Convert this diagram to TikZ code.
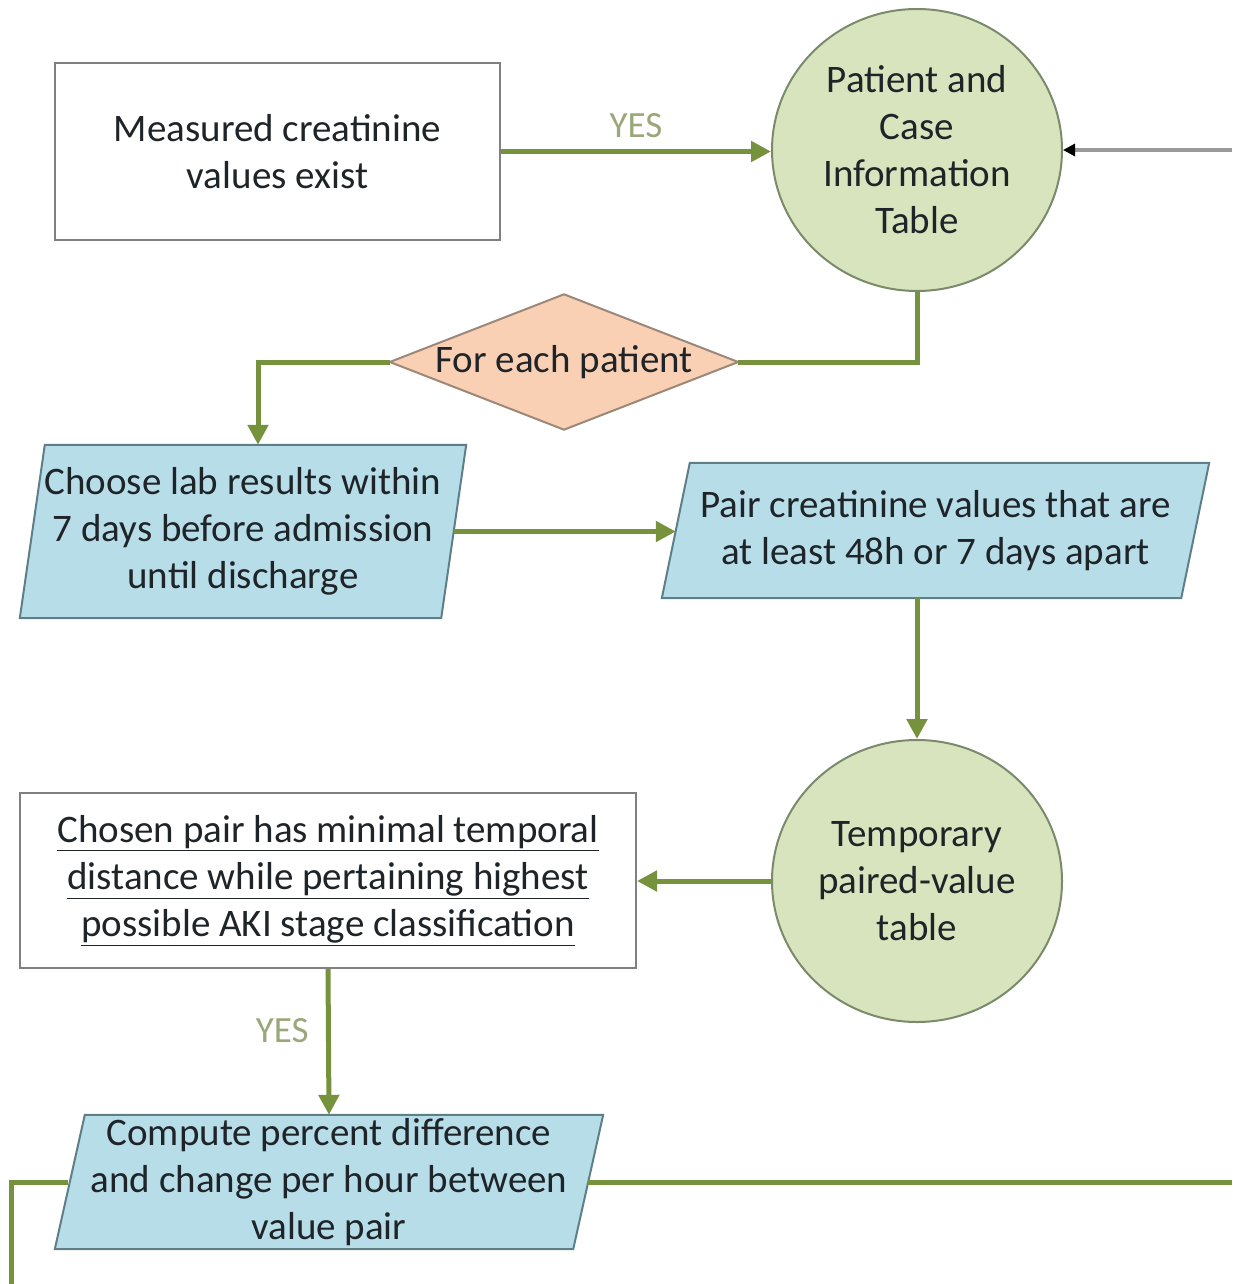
\documentclass[tikz,border=0pt]{standalone}
\usepackage{fontspec}
\setmainfont{Carlito}
\usetikzlibrary{shapes.geometric,arrows.meta,backgrounds}
\definecolor{conn}{HTML}{76923C}
\definecolor{circfill}{HTML}{D7E4BD}
\definecolor{circdraw}{HTML}{7A8A6A}
\definecolor{parafill}{HTML}{B7DDE8}
\definecolor{paradraw}{HTML}{5F7F88}
\definecolor{diafill}{HTML}{FAD0B4}
\definecolor{diadraw}{HTML}{9C8878}
\definecolor{boxdraw}{HTML}{808080}
\definecolor{txt}{HTML}{1E2428}
\definecolor{yescol}{HTML}{9AA77A}
\begin{document}
\begin{tikzpicture}[x=1pt,y=-1pt,
  every node/.style={font=\fontsize{39}{47}\selectfont, text=txt, align=center},
  rectbox/.style={draw=boxdraw, line width=2pt, fill=white, inner sep=0pt},
  circnode/.style={ellipse, draw=circdraw, line width=2pt, fill=circfill, inner sep=0pt},
  dianode/.style={inner sep=0pt},
  diashape/.style={draw=diadraw, line width=2pt, fill=diafill},
  paranode/.style={inner sep=0pt},
  parashape/.style={draw=paradraw, line width=2pt, fill=parafill},
  connline/.style={draw=conn, line width=5pt},
  conn arrow/.style={connline, -{Triangle[length=20pt,width=20pt]}},
  yeslabel/.style={font=\fontsize{37}{40}\selectfont, text=yescol}
]
\useasboundingbox (0,0) rectangle (1232,1284);

% nodes
\node[rectbox, minimum width=445pt, minimum height=177pt] (box1) at (277.5,151.5) {Measured creatinine\\values exist};
\node[circnode, minimum width=290pt, minimum height=282pt] (circ1) at (917,150) {Patient and\\Case\\Information\\Table};
\node[dianode, minimum width=348pt, minimum height=135pt] (dia) at (564,362) {For each patient};

\node[paranode, minimum width=421pt, minimum height=173pt] (para1) at (243,531.5) {Choose lab results within\\7 days before admission\\until discharge};
\node[paranode, minimum width=519pt, minimum height=135pt] (para2) at (935.5,530.5) {Pair creatinine values that are\\at least 48h or 7 days apart};
\node[circnode, minimum width=290pt, minimum height=282pt] (circ2) at (917,881) {Temporary\\paired-value\\table};
\node[rectbox, minimum width=616pt, minimum height=175pt] (box2) at (328,880.5) {\underline{Chosen pair has minimal temporal}\\\underline{distance while pertaining highest}\\\underline{possible AKI stage classification}};
\node[paranode, minimum width=518pt, minimum height=134pt] (para3) at (329,1182) {Compute percent difference\\and change per hour between\\value pair};

\begin{scope}[on background layer]
  \path[diashape] (dia.north) -- (dia.east) -- (dia.south) -- (dia.west) -- cycle;
  \path[parashape] ([xshift=12.5pt]para1.north west) -- ([xshift=12.5pt]para1.north east) -- ([xshift=-12.5pt]para1.south east) -- ([xshift=-12.5pt]para1.south west) -- cycle;
  \path[parashape] ([xshift=14pt]para2.north west) -- ([xshift=14pt]para2.north east) -- ([xshift=-14pt]para2.south east) -- ([xshift=-14pt]para2.south west) -- cycle;
  \path[parashape] ([xshift=15pt]para3.north west) -- ([xshift=15pt]para3.north east) -- ([xshift=-15pt]para3.south east) -- ([xshift=-15pt]para3.south west) -- cycle;
\end{scope}

% free ends
\coordinate (rin) at (1232,150);
\coordinate (rout) at (1232,1182);
\coordinate (lturn) at (11,1182);
\coordinate (lout) at (11,1284);

% connectors
\draw[conn arrow] (box1.east) -- node[yeslabel, above=8pt] {YES} (box1.east -| circ1.west);
\draw[draw=gray!80, line width=4pt, -{Triangle[length=12pt,width=12pt,color=black]}] (rin) -- (circ1.east);
\draw[connline] (circ1.south) |- (dia.east);
\draw[conn arrow] (dia.west) -| ([xshift=15pt]para1.north);
\draw[conn arrow] (para1.east) -- (para1.east -| para2.west);
\draw[conn arrow] (circ2.north |- para2.south) -- (circ2.north);
\draw[conn arrow] (circ2.west) -- (circ2.west -| box2.east);
\draw[conn arrow] (box2.south) -- node[yeslabel, left=14pt, pos=0.42] {YES} (para3.north);
\draw[connline] (para3.east) -- (rout);
\draw[connline] ([xshift=-2pt]para3.west) -- (lturn) -- (lout);
\end{tikzpicture}
\end{document}
